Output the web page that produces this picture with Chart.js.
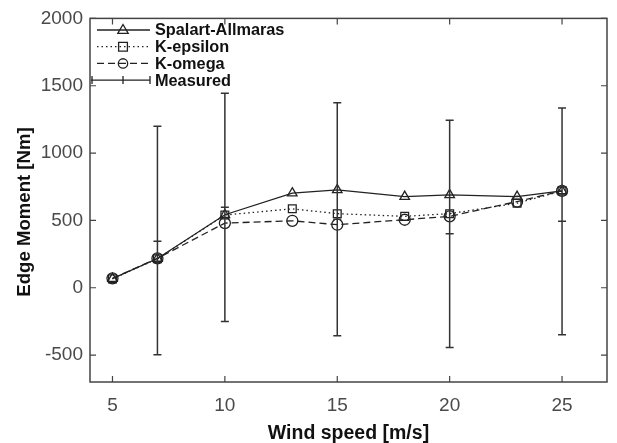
<!DOCTYPE html>
<html><head><meta charset="utf-8">
<script src="https://cdn.jsdelivr.net/npm/chart.js@4/dist/chart.umd.min.js"></script>
<style>html,body{margin:0;padding:0;background:#fff;}#wrap{width:617px;height:443px;}</style>
</head><body><div id="wrap"><canvas id="c" width="617" height="443"></canvas></div>
<script>
const windSpeed = [5, 7, 10, 13, 15, 18, 20, 23, 25];
const spalartAllmaras = [68, 217, 542, 702, 727, 677, 690, 677, 719];
const kEpsilon = [66, 215, 540, 586, 550, 530, 550, 628, 719];
const kOmega = [70, 218, 480, 497, 468, 505, 530, 640, 719];
const measuredSpeed = [7, 10, 15, 20, 25];
const measuredMean = [345, 597, 508, 400, 493];
const measuredUpper = [1199, 1445, 1374, 1244, 1335];
const measuredLower = [-497, -251, -357, -443, -349];
const xTicks = [5, 10, 15, 20, 25];
const yTicks = [-500, 0, 500, 1000, 1500, 2000];
const seriesNames = ['Spalart-Allmaras', 'K-epsilon', 'K-omega', 'Measured'];
const xTitle = 'Wind speed [m/s]';
const yTitle = 'Edge Moment [Nm]';

const FONT = '"Liberation Sans", Arial, sans-serif';
const LINE = '#222';
const pts = (xs, ys) => xs.map((x, i) => ({x: x, y: ys[i]}));

function drawMarker(ctx, style, x, y, r) {
  ctx.beginPath();
  if (style === 'triangle') {
    ctx.moveTo(x, y - r);
    ctx.lineTo(x + r * 0.95, y + r * 0.6);
    ctx.lineTo(x - r * 0.95, y + r * 0.6);
    ctx.closePath();
  } else if (style === 'rect') {
    ctx.rect(x - r * 0.8, y - r * 0.8, r * 1.6, r * 1.6);
  } else {
    ctx.arc(x, y, r * 0.85, 0, Math.PI * 2);
  }
  ctx.stroke();
}

const decor = {
  id: 'decor',
  afterDatasetsDraw(chart) {
    const {ctx, chartArea: a, scales: {x, y}} = chart;
    ctx.save();
    // error bars
    ctx.strokeStyle = '#333';
    ctx.lineWidth = 1.5;
    measuredSpeed.forEach((s, i) => {
      const px = x.getPixelForValue(s);
      const yt = y.getPixelForValue(measuredUpper[i]);
      const yb = y.getPixelForValue(measuredLower[i]);
      const ym = y.getPixelForValue(measuredMean[i]);
      ctx.beginPath();
      ctx.moveTo(px, yt); ctx.lineTo(px, yb);
      [yt, yb, ym].forEach(v => { ctx.moveTo(px - 4, v); ctx.lineTo(px + 4, v); });
      ctx.stroke();
    });
    // frame
    ctx.strokeStyle = '#444';
    ctx.lineWidth = 1.5;
    ctx.strokeRect(a.left, a.top, a.right - a.left, a.bottom - a.top);
    ctx.lineWidth = 1.2;
    ctx.beginPath();
    xTicks.forEach(v => {
      const px = x.getPixelForValue(v);
      ctx.moveTo(px, a.bottom); ctx.lineTo(px, a.bottom - 6);
      ctx.moveTo(px, a.top); ctx.lineTo(px, a.top + 6);
    });
    yTicks.forEach(v => {
      const py = y.getPixelForValue(v);
      ctx.moveTo(a.left, py); ctx.lineTo(a.left + 6, py);
      ctx.moveTo(a.right, py); ctx.lineTo(a.right - 6, py);
    });
    ctx.stroke();
    // legend
    const rows = [
      {dash: [], style: 'triangle'},
      {dash: [1.5, 3], style: 'rect'},
      {dash: [7, 4], style: 'circle'},
      {dash: [], style: 'bar'}
    ];
    ctx.font = 'bold 16.3px ' + FONT;
    ctx.textBaseline = 'middle';
    ctx.textAlign = 'left';
    rows.forEach((r, i) => {
      const ry = 30 + i * 16.7;
      ctx.strokeStyle = LINE;
      ctx.lineWidth = 1.3;
      ctx.setLineDash(r.dash);
      ctx.beginPath();
      if (r.style === 'bar') {
        ctx.moveTo(91, ry); ctx.lineTo(150, ry);
        [92, 123, 150].forEach(tx => { ctx.moveTo(tx, ry - 4); ctx.lineTo(tx, ry + 4); });
      } else {
        ctx.moveTo(97, ry); ctx.lineTo(150, ry);
      }
      ctx.stroke();
      ctx.setLineDash([]);
      if (r.style !== 'bar') drawMarker(ctx, r.style, 123, ry, 5.5);
      ctx.fillStyle = '#111';
      ctx.fillText(seriesNames[i], 155, ry + 1);
    });
    // y title
    ctx.save();
    ctx.translate(25, 212);
    ctx.rotate(-Math.PI / 2);
    ctx.textAlign = 'center';
    ctx.textBaseline = 'middle';
    ctx.font = 'bold 18.6px ' + FONT;
    ctx.fillStyle = '#111';
    ctx.fillText(yTitle, 0, 0);
    ctx.restore();
    // x title
    ctx.textAlign = 'center';
    ctx.textBaseline = 'middle';
    ctx.font = 'bold 19.5px ' + FONT;
    ctx.fillStyle = '#111';
    ctx.fillText(xTitle, (a.left + a.right) / 2, 434);
    ctx.restore();
  }
};

const mk = (label, data, style, dash) => ({
  label: label, data: data, borderColor: LINE, borderWidth: 1.3, borderDash: dash,
  pointStyle: style, pointRadius: 5.5, pointBorderWidth: 1.3, pointBorderColor: LINE,
  pointBackgroundColor: 'rgba(0,0,0,0)', tension: 0, fill: false
});

new Chart(document.getElementById('c'), {
  type: 'line',
  data: {
    datasets: [
      mk(seriesNames[0], pts(windSpeed, spalartAllmaras), 'triangle', []),
      mk(seriesNames[1], pts(windSpeed, kEpsilon), 'rect', [1.5, 3]),
      mk(seriesNames[2], pts(windSpeed, kOmega), 'circle', [7, 4]),
      {label: seriesNames[3], data: pts(measuredSpeed, measuredMean), showLine: false, pointRadius: 0, borderColor: LINE}
    ]
  },
  options: {
    responsive: false, animation: false, devicePixelRatio: 1,
    layout: {padding: {left: 0, right: 10, top: 16, bottom: 0}},
    plugins: {legend: {display: false}, tooltip: {enabled: false}},
    scales: {
      x: {
        type: 'linear', min: 4, max: 27,
        afterBuildTicks: s => { s.ticks = xTicks.map(v => ({value: v})); },
        afterFit: s => { s.height = 61; },
        grid: {display: false, drawTicks: false}, border: {display: false},
        ticks: {font: {size: 19, family: FONT}, color: '#4a4a4a', padding: 12, callback: v => String(v)}
      },
      y: {
        type: 'linear', min: -700, max: 2000,
        afterBuildTicks: s => { s.ticks = yTicks.map(v => ({value: v})); },
        afterFit: s => { s.width = 90; },
        grid: {display: false, drawTicks: false}, border: {display: false},
        ticks: {font: {size: 19, family: FONT}, color: '#4a4a4a', padding: 7, callback: v => String(v)}
      }
    }
  },
  plugins: [decor]
});
</script></body></html>
